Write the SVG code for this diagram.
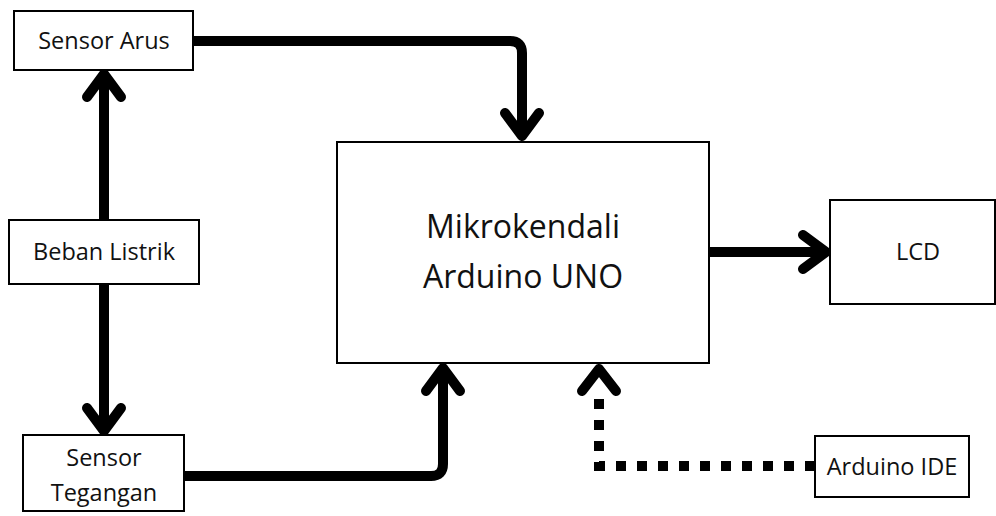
<svg xmlns="http://www.w3.org/2000/svg" width="996" height="516" viewBox="0 0 996 516">
<style>
.box{fill:#fff;stroke:#000;stroke-width:2}
.t{font-family:"Open Sans","Liberation Sans",sans-serif;font-size:23.5px;fill:#111;text-anchor:middle}
.big{font-size:32px}
.c{fill:none;stroke:#000;stroke-width:10;stroke-linejoin:round}
.h{fill:none;stroke:#000;stroke-width:10;stroke-linecap:round;stroke-linejoin:round}
.d{fill:none;stroke:#000;stroke-width:10;stroke-dasharray:10 11}
</style>
<rect width="996" height="516" fill="#fff"/>
<g id="connectors">
<path class="c" d="M193 41 H510 Q522 41 522 53 V130"/>
<path class="h" d="M505 113 L522 136 L539 113"/>
<path class="c" d="M104 220 V80"/>
<path class="h" d="M87 97 L104 74 L121 97"/>
<path class="c" d="M104 284 V425"/>
<path class="h" d="M87 408 L104 431 L121 408"/>
<path class="c" d="M184 476 H431 Q443 476 443 464 V375"/>
<path class="h" d="M426 391 L443 368 L460 391"/>
<path class="c" d="M709 252 H820"/>
<path class="h" d="M803 235 L826 252 L803 269"/>
<path class="d" d="M815 466 H599 V392"/>
<path class="h" d="M582 391 L599 369 L616 391"/>
</g>
<g id="sensor-arus"><rect class="box" x="14" y="11" width="179" height="59"/><text class="t" x="104" y="49">Sensor Arus</text></g>
<g id="beban-listrik"><rect class="box" x="9" y="220" width="190" height="64"/><text class="t" x="104" y="260">Beban Listrik</text></g>
<g id="sensor-tegangan"><rect class="box" x="23" y="435" width="161" height="76"/><text class="t" x="104" y="466">Sensor</text><text class="t" x="104" y="501">Tegangan</text></g>
<g id="mikrokendali"><rect class="box" x="337" y="142" width="372" height="221"/><text class="t big" x="523" y="238">Mikrokendali</text><text class="t big" x="523" y="288">Arduino UNO</text></g>
<g id="lcd"><rect class="box" x="830" y="200" width="165" height="104"/><text class="t" x="918" y="260">LCD</text></g>
<g id="arduino-ide"><rect class="box" x="815" y="436" width="154" height="61"/><text class="t" x="892" y="475">Arduino IDE</text></g>
</svg>
